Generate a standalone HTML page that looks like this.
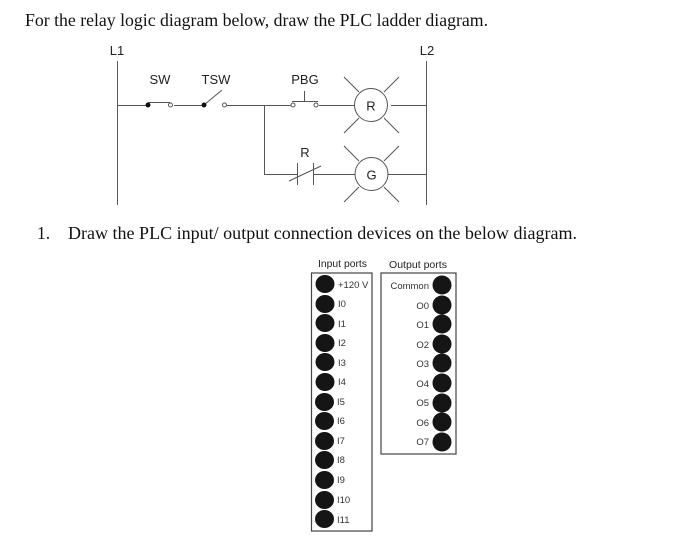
<!DOCTYPE html>
<html><head><meta charset="utf-8"><style>
html,body{margin:0;padding:0;background:#fff;width:700px;height:540px;overflow:hidden}
svg{display:block}
.s{font-family:"Liberation Serif",serif;font-size:17.5px;fill:#111}
.a{font-family:"Liberation Sans",sans-serif;font-size:13px;fill:#222;text-anchor:middle}
.p{font-family:"Liberation Sans",sans-serif;font-size:9.5px;fill:#333}
.h{font-family:"Liberation Sans",sans-serif;font-size:10px;fill:#222}
.l{stroke:#555;stroke-width:1;fill:none}
</style></head><body>
<svg width="700" height="540" viewBox="0 0 700 540" xmlns="http://www.w3.org/2000/svg">
<text class="s" x="25" y="26" textLength="463" lengthAdjust="spacingAndGlyphs">For the relay logic diagram below, draw the PLC ladder diagram.</text>
<text class="s" x="37" y="239">1.</text>
<text class="s" x="68" y="239" textLength="509" lengthAdjust="spacingAndGlyphs">Draw the PLC input/ output connection devices on the below diagram.</text>

<text class="a" x="117" y="55">L1</text>
<text class="a" x="427" y="55">L2</text>
<text class="a" x="160" y="84">SW</text>
<text class="a" x="216" y="84">TSW</text>
<text class="a" x="305" y="84">PBG</text>
<text class="a" x="305" y="157">R</text>

<g class="l">
<path d="M117.500 61V205M426.500 61V205"/>
<path d="M117 105.500H148M148 102.500H170M174 105.500H204M204 105L222 90M227 105.500H291"/>
<path d="M264.500 105.500V174.500H297.500M313.500 174.500H355M388 174.500H426"/>
<path d="M319 105.500H354M391 105.500H426"/>
<path d="M292 101.500H318M304.500 101.500V91"/>
<path d="M297.500 163V185M313.500 163V185M289 181L321 166"/>
<path d="M344 77L359 92M399 77L384 92M344 133L359 118M399 133L384 118"/>
<path d="M344 146L359 161M399 146L384 161M344 202L359 187M399 202L384 187"/>
<circle cx="371" cy="105" r="16.500" fill="#fff"/>
<circle cx="371.500" cy="174" r="16.500" fill="#fff"/>
<circle cx="170.500" cy="105" r="2" fill="#fff"/>
<circle cx="224.500" cy="105" r="2" fill="#fff"/>
<circle cx="293" cy="105" r="2" fill="#fff"/>
<circle cx="316" cy="105" r="2" fill="#fff"/>
</g>
<circle cx="148" cy="105" r="2.500" fill="#111"/>
<circle cx="204" cy="105" r="2.500" fill="#111"/>
<text class="a" x="371" y="110.500">R</text>
<text class="a" x="371.500" y="179.500">G</text>

<text class="h" x="318" y="267" textLength="49" lengthAdjust="spacingAndGlyphs">Input ports</text>
<text class="h" x="389" y="268" textLength="58" lengthAdjust="spacingAndGlyphs">Output ports</text>
<rect x="311.500" y="273" width="60.500" height="258" fill="none" stroke="#444" stroke-width="1.200"/>
<rect x="381" y="273" width="75" height="181" fill="none" stroke="#444" stroke-width="1.200"/>

<g fill="#151515">
<ellipse cx="325" cy="284" rx="9.500" ry="9"/><ellipse cx="325" cy="304" rx="9.500" ry="9"/><ellipse cx="325" cy="323" rx="9.500" ry="9"/><ellipse cx="325" cy="343" rx="9.500" ry="9"/><ellipse cx="325" cy="362" rx="9.500" ry="9"/><ellipse cx="325" cy="382" rx="9.500" ry="9"/><ellipse cx="324.500" cy="402" rx="9.500" ry="9"/><ellipse cx="324.500" cy="421" rx="9.500" ry="9"/><ellipse cx="324.500" cy="441" rx="9.500" ry="9"/><ellipse cx="324.500" cy="460" rx="9.500" ry="9"/><ellipse cx="324.500" cy="480" rx="9.500" ry="9"/><ellipse cx="324.500" cy="500" rx="9.500" ry="9"/><ellipse cx="324.500" cy="519" rx="9.500" ry="9"/>
<ellipse cx="442" cy="285" rx="9.500" ry="9.500"/><ellipse cx="442" cy="305" rx="9.500" ry="9.500"/><ellipse cx="442" cy="324" rx="9.500" ry="9.500"/><ellipse cx="442" cy="344" rx="9.500" ry="9.500"/><ellipse cx="442" cy="363" rx="9.500" ry="9.500"/><ellipse cx="442" cy="383" rx="9.500" ry="9.500"/><ellipse cx="442" cy="403" rx="9.500" ry="9.500"/><ellipse cx="442" cy="422" rx="9.500" ry="9.500"/><ellipse cx="442" cy="442" rx="9.500" ry="9.500"/>
</g>

<g class="p">
<text x="338" y="288">+120 V</text>
<text x="338" y="307">I0</text><text x="338" y="327">I1</text><text x="338" y="346">I2</text><text x="338" y="366">I3</text><text x="338" y="385">I4</text><text x="337" y="405">I5</text><text x="337" y="424">I6</text><text x="337" y="444">I7</text><text x="337" y="463">I8</text><text x="337" y="483">I9</text><text x="337" y="503">I10</text><text x="337" y="523">I11</text>
</g>
<g class="p" text-anchor="end">
<text x="429" y="289">Common</text>
<text x="429" y="309">O0</text><text x="429" y="328">O1</text><text x="429" y="348">O2</text><text x="429" y="367">O3</text><text x="429" y="387">O4</text><text x="429" y="406">O5</text><text x="429" y="426">O6</text><text x="429" y="445">O7</text>
</g>
</svg>
</body></html>
